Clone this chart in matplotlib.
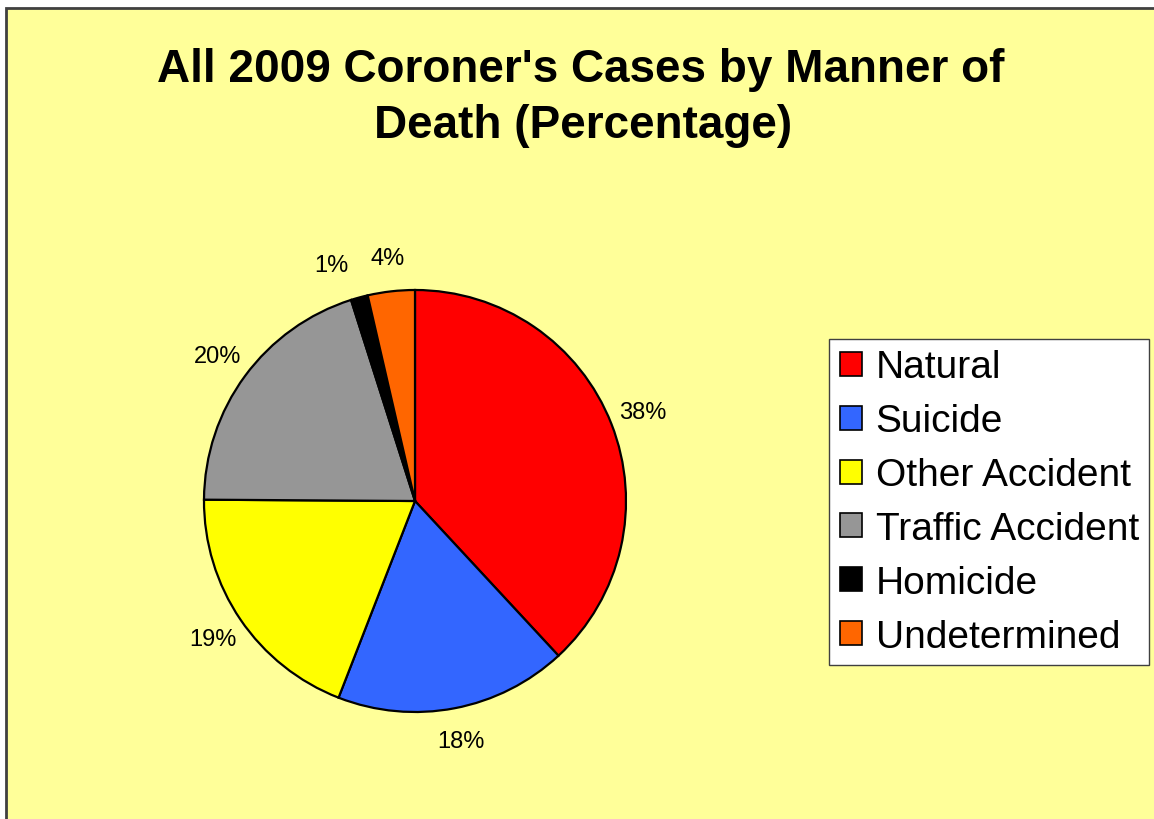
import matplotlib
matplotlib.use("Agg")
import matplotlib.pyplot as plt
from matplotlib.patches import Rectangle

categories = ["Natural", "Suicide", "Other Accident", "Traffic Accident", "Homicide", "Undetermined"]
values = [38.1, 17.8, 19.2, 20.0, 1.3, 3.6]
pct_labels = ["38%", "18%", "19%", "20%", "1%", "4%"]
colors = ["#FF0000", "#3366FF", "#FFFF00", "#969696", "#000000", "#FF6600"]

W, H = 1154, 820
fig = plt.figure(figsize=(W / 100, H / 100), dpi=100)
fig.patch.set_facecolor("white")

# chart area background with border
bg = Rectangle((5.5 / W, -0.01), 1.02, (H - 9) / H + 0.01, transform=fig.transFigure,
               facecolor="#FFFF99", edgecolor="#404040", linewidth=2, zorder=-5)
fig.patches.append(bg)

cx, cy, r = 415, 502, 211
ax = fig.add_axes([(cx - r) / W, (H - cy - r) / H, 2 * r / W, 2 * r / H])
ax.set_zorder(2)
ax.set_facecolor("none")
wedges, texts = ax.pie(values, labels=pct_labels, colors=colors, startangle=90,
                       counterclock=False, radius=1.0, labeldistance=1.16,
                       wedgeprops=dict(edgecolor="black", linewidth=1.6),
                       textprops=dict(fontsize=17, family=["Liberation Sans", "DejaVu Sans"],
                                      color="black"))
for t in texts:
    t.set_ha("center")
    t.set_va("center")
# Homicide label nudged left to avoid overlap, as in the original
x, y = texts[4].get_position()
texts[4].set_position((x - 0.09, y))
ax.set_xlim(-1, 1)
ax.set_ylim(-1, 1)
ax.set_aspect("equal")
ax.axis("off")

title_font = ["Liberation Sans", "DejaVu Sans"]
fig.text(581 / W, 1 - 82 / H, "All 2009 Coroner's Cases by Manner of", ha="center",
         va="baseline", fontsize=33, fontweight="bold", family=title_font)
fig.text(583 / W, 1 - 138 / H, "Death (Percentage)", ha="center",
         va="baseline", fontsize=33, fontweight="bold", family=title_font)

leg = fig.legend(wedges, categories, loc="upper left",
                 bbox_to_anchor=(829 / W, 1 - 340 / H), borderaxespad=0,
                 prop=dict(family=["Liberation Sans", "DejaVu Sans"], size=28),
                 frameon=True, fancybox=False, shadow=False,
                 borderpad=0.27, handlelength=0.57, handleheight=0.57,
                 handletextpad=0.36, labelspacing=0.46)
leg.set_zorder(3)
frame = leg.get_frame()
frame.set_facecolor("white")
frame.set_edgecolor("#404040")
frame.set_linewidth(1.0)
frame.set_alpha(1)
for h in leg.legend_handles:
    h.set_edgecolor("black")
    h.set_linewidth(1.2)

fig.savefig("out.png", dpi=100, facecolor=fig.get_facecolor())
